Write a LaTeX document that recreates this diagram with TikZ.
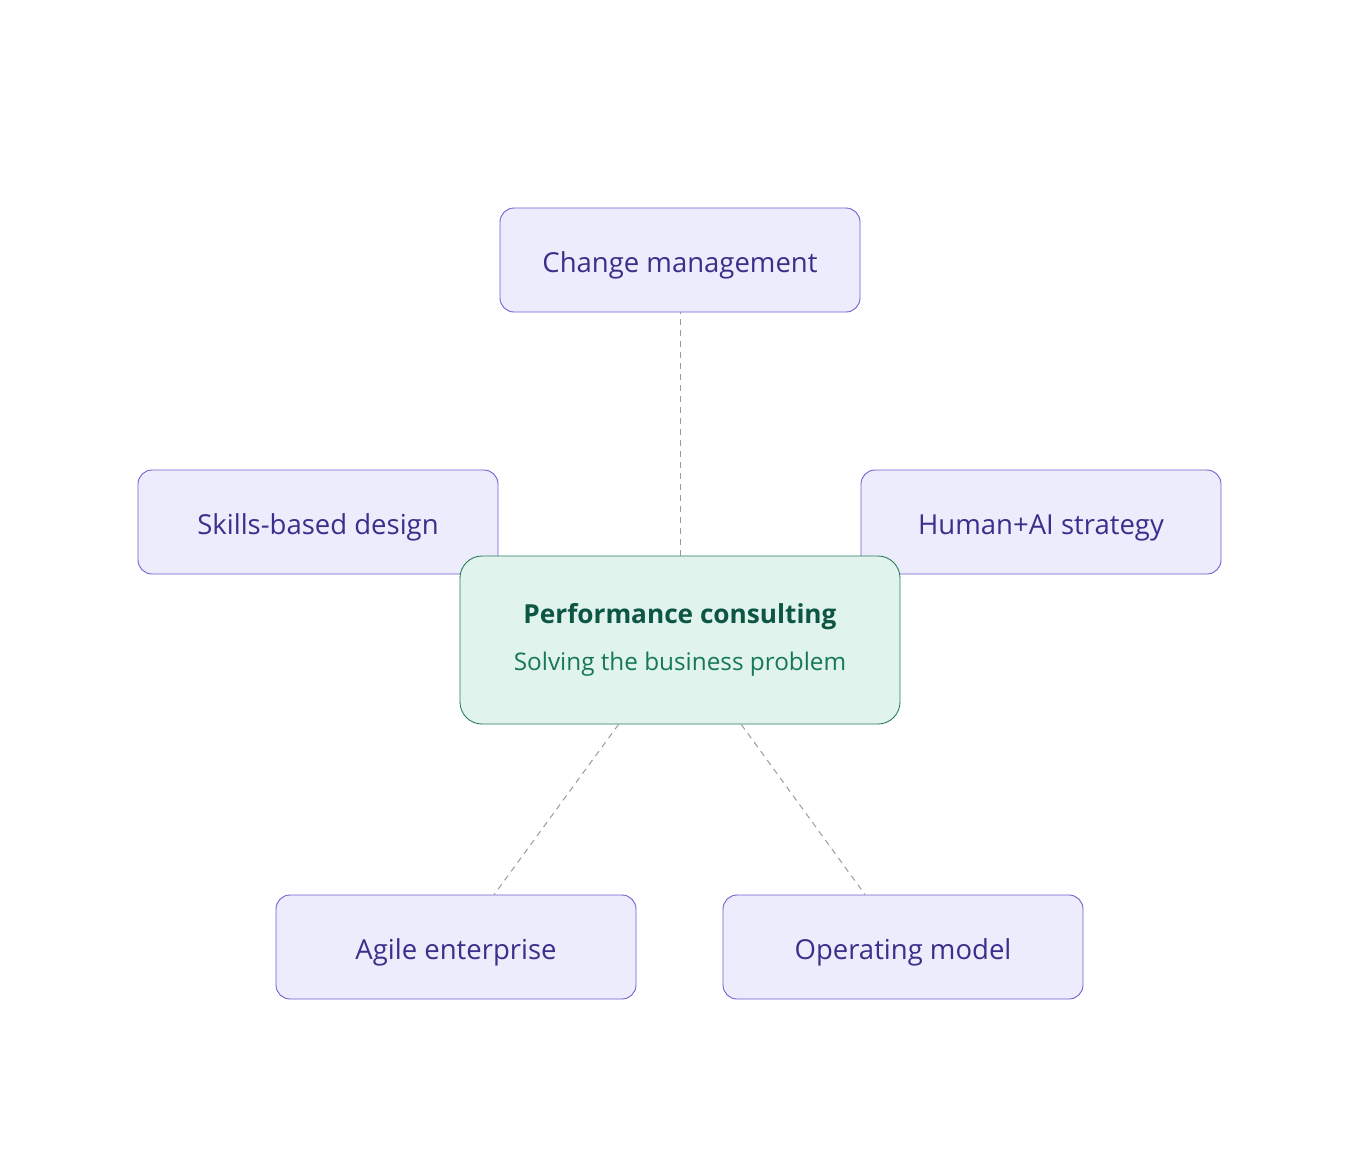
\documentclass[tikz,border=0pt]{standalone}
\usepackage{fontspec}
\setmainfont{Open Sans}
\definecolor{topicfill}{HTML}{ECECFC}
\definecolor{topicdraw}{HTML}{6F5FD0}
\definecolor{topictext}{HTML}{3A2F8A}
\definecolor{corefill}{HTML}{E0F3EC}
\definecolor{coredraw}{HTML}{2F7D60}
\definecolor{coretitle}{HTML}{0C5642}
\definecolor{coresub}{HTML}{16775A}
\definecolor{linkgray}{HTML}{9A9A9A}
\usetikzlibrary{positioning}

\begin{document}
\begin{tikzpicture}[x=1pt,y=-1pt,
    topic/.style={draw=topicdraw,fill=topicfill,text=topictext,rounded corners=14pt,
      minimum width=360pt,minimum height=104pt,line width=0.9pt,
      text height=28pt,text depth=4pt,
      font=\fontsize{27.5}{32}\selectfont},
    core/.style={draw=coredraw,fill=corefill,rounded corners=22pt,
      minimum width=440pt,minimum height=168pt,line width=0.9pt,align=center},
    link/.style={draw=linkgray,line width=1pt,dash pattern=on 6pt off 5pt}
    ]
    \useasboundingbox (0,0) rectangle (1360,1160);

    % the outer topics
    \node[topic] (change) at (680,260) {Change management};
    \node[topic] (skills) at (318,522) {Skills-based design};
    \node[topic] (humanai) at (1041,522) {Human+AI strategy};
    \node[topic] (agile) at (456,947) {Agile enterprise};
    \node[topic] (opmodel) at (903,947) {Operating model};

    % the core
    \node[core] (perf) at (680,640) {%
      {\color{coretitle}\fontsize{26.2}{31}\selectfont\bfseries Performance consulting}\\[22pt]
      {\color{coresub}\fontsize{24.3}{28}\selectfont Solving the business problem}};

    % the links
    \draw[link] (perf) -- (change);
    \draw[link] (perf) -- (agile);
    \draw[link] (perf) -- (opmodel);
\end{tikzpicture}
\end{document}
